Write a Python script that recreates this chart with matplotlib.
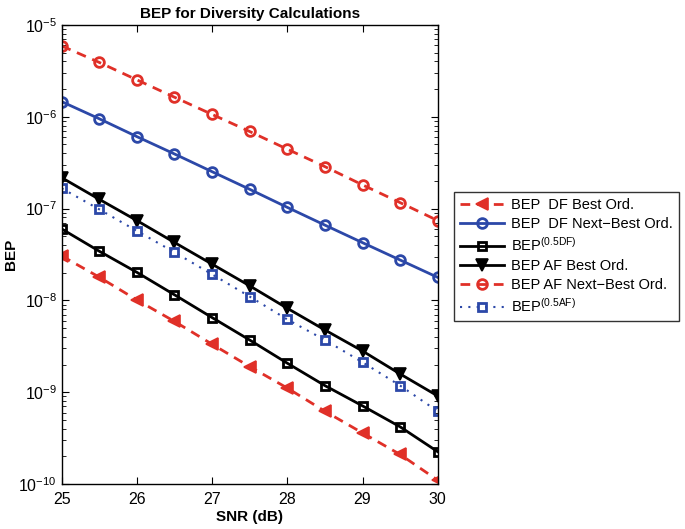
import matplotlib
matplotlib.use('Agg')
from matplotlib import pyplot as plt
from matplotlib.ticker import LogLocator, NullFormatter
import numpy as np

plt.rcParams['font.family'] = ['Liberation Sans', 'DejaVu Sans']
plt.rcParams['mathtext.default'] = 'regular'

snr = [25, 25.5, 26, 26.5, 27, 27.5, 28, 28.5, 29, 29.5, 30]

df_best = [3.05e-8, 1.79e-8, 1.01e-8, 5.9e-9, 3.33e-9, 1.9e-9, 1.11e-9, 6.2e-10, 3.6e-10, 2.1e-10, 1.1e-10]
df_next = [1.46e-6, 9.5e-7, 6.07e-7, 3.93e-7, 2.52e-7, 1.62e-7, 1.03e-7, 6.6e-8, 4.25e-8, 2.75e-8, 1.78e-8]
half_df = [6.0e-8, 3.43e-8, 2.02e-8, 1.15e-8, 6.5e-9, 3.7e-9, 2.07e-9, 1.18e-9, 7.1e-10, 4.2e-10, 2.25e-10]
af_best = [2.17e-7, 1.26e-7, 7.4e-8, 4.27e-8, 2.48e-8, 1.44e-8, 8.2e-9, 4.76e-9, 2.81e-9, 1.58e-9, 9.1e-10]
af_next = [5.9e-6, 3.9e-6, 2.52e-6, 1.63e-6, 1.06e-6, 6.9e-7, 4.43e-7, 2.86e-7, 1.81e-7, 1.16e-7, 7.4e-8]
half_af = [1.66e-7, 9.8e-8, 5.7e-8, 3.34e-8, 1.92e-8, 1.1e-8, 6.2e-9, 3.7e-9, 2.12e-9, 1.18e-9, 6.2e-10]

labels = ['BEP  DF Best Ord.', 'BEP  DF Next\u2212Best Ord.', 'BEP$^{(0.5DF)}$',
          'BEP AF Best Ord.', 'BEP AF Next\u2212Best Ord.', 'BEP$^{(0.5AF)}$']

red = '#e03028'
blue = '#2c48a8'

fig = plt.figure(figsize=(6.85, 5.29), dpi=100)
ax = fig.add_axes([0.090, 0.085, 0.549, 0.868])

dash = (0, (3.5, 2.5))
ax.semilogy(snr, df_best, color=red, ls=dash, lw=2, marker='<', ms=8, mfc=red, mec=red, mew=1.2, label=labels[0])
ax.semilogy(snr, df_next, color=blue, ls='-', lw=2, marker='o', ms=7, mfc='none', mec=blue, mew=2, label=labels[1])
ax.semilogy(snr, half_df, color='black', ls='-', lw=2, marker='s', ms=6, mfc='none', mec='black', mew=2, label=labels[2])
ax.semilogy(snr, af_best, color='black', ls='-', lw=2, marker='v', ms=8, mfc='black', mec='black', mew=1.2, label=labels[3])
ax.semilogy(snr, af_next, color=red, ls=dash, lw=2, marker='o', ms=7, mfc='none', mec=red, mew=2, label=labels[4])
ax.semilogy(snr, half_af, color=blue, ls=(0, (1, 3)), lw=1.5, marker='s', ms=6, mfc='none', mec=blue, mew=2, label=labels[5])

ax.set_xlim(25, 30)
ax.set_ylim(1e-10, 1e-5)
ax.set_xticks([25, 26, 27, 28, 29, 30])
ax.yaxis.set_major_locator(LogLocator(base=10, numticks=10))
ax.yaxis.set_minor_locator(LogLocator(base=10, subs=np.arange(2, 10), numticks=20))
ax.yaxis.set_minor_formatter(NullFormatter())
ax.tick_params(which='both', direction='in', top=True, right=True, labelsize=11.5)
ax.tick_params(axis='x', pad=6)
ax.tick_params(which='major', length=5)
ax.tick_params(which='minor', length=3)
for s in ax.spines.values():
    s.set_linewidth(1)

ax.set_title('BEP for Diversity Calculations', fontsize=11, fontweight='bold', pad=5)
ax.set_xlabel('SNR (dB)', fontsize=11, fontweight='bold', labelpad=2)
ax.set_ylabel('BEP', fontsize=11, fontweight='bold')
ax.yaxis.set_label_coords(-0.115, 0.5)

leg = fig.legend(loc='upper left', bbox_to_anchor=(0.663, 0.637), fontsize=10.5,
                 frameon=True, fancybox=False, edgecolor='black', handlelength=3.0,
                 borderpad=0.4, labelspacing=0.35, handletextpad=0.5, borderaxespad=0)
leg.get_frame().set_linewidth(1)

fig.savefig('out.png', dpi=100)
